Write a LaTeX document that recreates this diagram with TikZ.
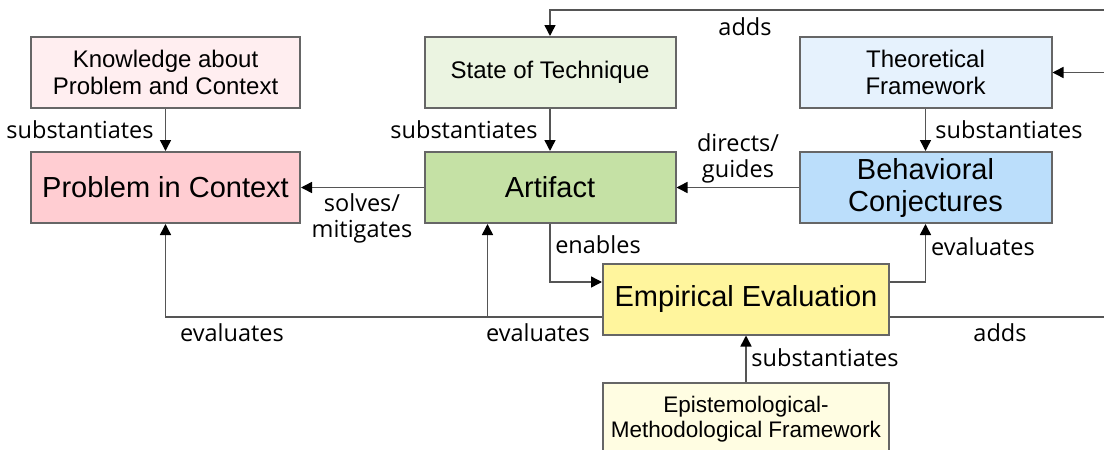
\documentclass[tikz,border=0pt]{standalone}
\usepackage{fontspec}
\setmainfont{Liberation Sans}
\newfontfamily\labelfont{Open Sans}
\usetikzlibrary{arrows.meta,calc}

\definecolor{edgegray}{HTML}{666666}
\definecolor{linegray}{HTML}{555555}
\definecolor{knowfill}{HTML}{FFEEF0}
\definecolor{probfill}{HTML}{FFCDD2}
\definecolor{statefill}{HTML}{EBF4E1}
\definecolor{artfill}{HTML}{C5E1A5}
\definecolor{theofill}{HTML}{E6F2FD}
\definecolor{behfill}{HTML}{BBDEFB}
\definecolor{empfill}{HTML}{FFF59D}
\definecolor{epifill}{HTML}{FFFDE2}

\tikzset{
  box/.style={draw=edgegray, line width=2pt, rectangle, align=center,
    minimum height=71pt, inner sep=0pt},
  bigtext/.style={font=\fontsize{29}{32}\selectfont},
  midtext/.style={font=\fontsize{24}{27}\selectfont},
  smalltext/.style={font=\fontsize{22.5}{25}\selectfont},
  conn/.style={draw=linegray, line width=1.5pt},
  arr/.style={conn, -{Triangle[length=11pt,width=11pt,color=black]}},
  lbl/.style={font=\labelfont\fontsize{23.5}{26}\selectfont, text=black,
    align=center, inner sep=0pt}
}

\begin{document}
\begin{tikzpicture}[x=1pt,y=-1pt]
  \useasboundingbox (0,0) rectangle (1104,450);
  \clip (0,0) rectangle (1104,450);
  \fill[white] (0,0) rectangle (1104,450);

  % boxes
  \node[box, midtext, fill=knowfill, minimum width=269pt] (know) at (165.5,72.5)
    {Knowledge about\\Problem and Context};
  \node[box, bigtext, fill=probfill, minimum width=269pt] (prob) at (165.5,187.5)
    {Problem in Context};
  \node[box, midtext, fill=statefill, minimum width=251pt] (state) at (550,72.5)
    {State of Technique};
  \node[box, bigtext, fill=artfill, minimum width=251pt] (art) at (550,187.5)
    {Artifact};
  \node[box, midtext, fill=theofill, minimum width=252pt] (theo) at (925.5,72.5)
    {Theoretical\\Framework};
  \node[box, bigtext, fill=behfill, minimum width=252pt] (beh) at (925.5,187.5)
    {Behavioral\\Conjectures};
  \node[box, bigtext, fill=empfill, minimum width=286pt] (emp) at (746,299)
    {Empirical Evaluation};
  \node[box, smalltext, fill=epifill, minimum width=286pt, minimum height=72pt] (epi) at (746,419)
    {Epistemological-\\Methodological Framework};

  % loose ends running off to the right
  \coordinate (topR) at (1120,10);
  \coordinate (theoR) at (1120,72.5);
  \coordinate (addR) at (1120,317);

  % connectors
  \draw[arr] (know.south) -- (prob.north);
  \draw[arr] (state.south) -- (art.north);
  \draw[arr] (theo.south) -- (beh.north);
  \draw[arr] (art.west) -- (prob.east);
  \draw[arr] (beh.west) -- (art.east);
  \draw[arr] (art.south) |- ([yshift=17pt]emp.west);
  \draw[arr] ([yshift=17pt]emp.east) -| (beh.south);
  \draw[arr] ([yshift=-18pt]emp.west) -| (prob.south);
  \coordinate (split) at ([yshift=-18pt]emp.west);
  \coordinate (artin) at ([xshift=64pt]art.south west);
  \draw[arr] (split -| artin) -- (artin);
  \draw[conn] ([yshift=-18pt]emp.east) -- (addR);
  \draw[arr] (topR) -| (state.north);
  \draw[arr] (theoR) -- (theo.east);
  \draw[arr] (epi.north) -- (emp.south);

  % connector labels
  \node[lbl] (l1) at (80,130) {substantiates};
  \node[lbl] (l2) at (464,130) {substantiates};
  \node[lbl] (l3) at (1009,130) {substantiates};
  \node[lbl] (l4) at (362,218) {solves/\\mitigates};
  \node[lbl] (l5) at (738,158) {directs/\\guides};
  \node[lbl] (l6) at (598,245) {enables};
  \node[lbl] (l7) at (983,247) {evaluates};
  \node[lbl] (l8) at (232,333) {evaluates};
  \node[lbl] (l9) at (538,333) {evaluates};
  \node[lbl] (l10) at (1000,333) {adds};
  \node[lbl] (l11) at (745,27) {adds};
  \node[lbl] (l12) at (825,358) {substantiates};
\end{tikzpicture}
\end{document}
